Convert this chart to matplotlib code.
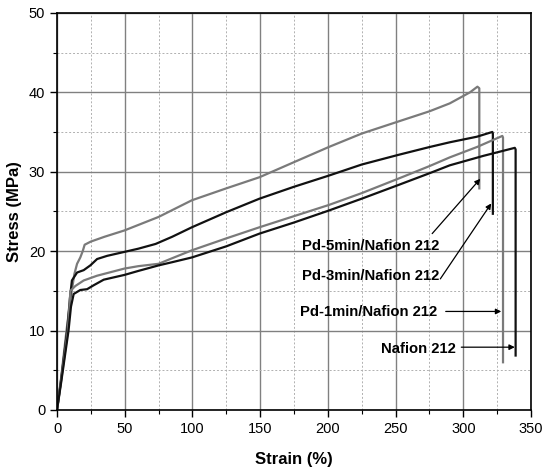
import numpy as np
import matplotlib.pyplot as plt
from matplotlib.ticker import MultipleLocator

plt.rcParams['font.family'] = ['Liberation Sans', 'DejaVu Sans']

# strain (%) / stress (MPa)
pd5_x = [0, 3, 7, 10, 12.8, 14.8, 17.2, 19, 20.4, 25, 35, 49.8, 75, 99.6, 125, 149.5, 175, 200.6, 225, 251.7, 275, 290, 305, 310.4, 311.8, 311.8]
pd5_y = [0, 4, 10, 14, 17.1, 18.4, 19.2, 20.0, 20.8, 21.2, 21.8, 22.6, 24.3, 26.4, 27.9, 29.3, 31.2, 33.1, 34.8, 36.3, 37.6, 38.6, 40.0, 40.7, 40.5, 27.9]

pd3_x = [0, 3, 7.5, 9.5, 11, 14.8, 19.7, 24.6, 29.6, 37, 49.8, 60, 72.8, 85, 99.6, 125, 149.5, 175, 200.6, 225, 251.7, 275, 290, 310, 321.4, 321.8, 321.8]
pd3_y = [0, 3.8, 10, 14, 16.3, 17.3, 17.6, 18.2, 19.0, 19.4, 19.9, 20.3, 20.9, 21.8, 23.0, 24.9, 26.6, 28.1, 29.5, 30.9, 32.1, 33.1, 33.7, 34.4, 35.0, 34.8, 24.7]

pd1_x = [0, 3, 8, 9.9, 13.5, 19.7, 29.6, 49.8, 60, 75, 85, 99.6, 125, 149.5, 175, 200.6, 225, 251.7, 275, 290, 310, 328.8, 329.3, 329.3]
pd1_y = [0, 3.6, 10, 15.0, 15.6, 16.3, 16.9, 17.8, 18.1, 18.4, 19.1, 20.1, 21.6, 23.0, 24.4, 25.8, 27.3, 29.1, 30.7, 31.8, 33.1, 34.5, 34.3, 6.0]

naf_x = [0, 3, 8.5, 10.3, 12.3, 17.2, 22.2, 27.1, 34.5, 49.8, 60, 75, 85, 99.6, 125, 149.5, 175, 200.6, 225, 251.7, 275, 290, 315, 338, 338.6, 338.6]
naf_y = [0, 3.4, 10, 13.0, 14.6, 15.1, 15.2, 15.7, 16.4, 17.0, 17.5, 18.2, 18.6, 19.2, 20.6, 22.2, 23.6, 25.1, 26.6, 28.3, 29.8, 30.8, 32.0, 33.0, 32.8, 6.85]

gray = '#7a7a7a'
black = '#111111'

fig = plt.figure(figsize=(5.43, 4.75), dpi=100)
ax = fig.add_axes([0.105, 0.137, 0.873, 0.836])

ax.xaxis.set_major_locator(MultipleLocator(50))
ax.xaxis.set_minor_locator(MultipleLocator(25))
ax.yaxis.set_major_locator(MultipleLocator(10))
ax.yaxis.set_minor_locator(MultipleLocator(5))
ax.grid(which='major', color='#808080', linewidth=1.0, linestyle='-')
ax.grid(which='minor', color='#b0b0b0', linewidth=0.7, linestyle=(0, (2, 2)))
ax.set_axisbelow(True)

ax.plot(pd5_x, pd5_y, color=gray, lw=1.6)
ax.plot(pd3_x, pd3_y, color=black, lw=1.6)
ax.plot(pd1_x, pd1_y, color=gray, lw=1.6)
ax.plot(naf_x, naf_y, color=black, lw=1.6)

ax.set_xlim(0, 350)
ax.set_ylim(0, 50)
ax.tick_params(which='both', direction='out', top=False, right=False, labelsize=10.5)
ax.tick_params(which='major', length=5, width=1)
ax.tick_params(which='minor', length=3, width=0.8)
for s in ax.spines.values():
    s.set_linewidth(1.2)

ax.set_xlabel('Strain (%)', fontsize=12, fontweight='bold', labelpad=12)
ax.set_ylabel('Stress (MPa)', fontsize=12, fontweight='bold', labelpad=5)

arrow = dict(arrowstyle='-|>', color='black', lw=0.9, mutation_scale=8, shrinkA=0, shrinkB=0)
tkw = dict(fontsize=10.7, fontweight='bold', va='center')
ax.text(180.6, 20.6, 'Pd-5min/Nafion 212', ha='left', **tkw)
ax.annotate('', xy=(312.5, 29.1), xytext=(277, 22.2), arrowprops=arrow)
ax.text(180.6, 16.9, 'Pd-3min/Nafion 212', ha='left', **tkw)
ax.annotate('', xy=(320.6, 26.0), xytext=(283, 16.5), arrowprops=arrow)
ax.text(179.5, 12.3, 'Pd-1min/Nafion 212', ha='left', **tkw)
ax.annotate('', xy=(328, 12.4), xytext=(287, 12.4), arrowprops=arrow)
ax.text(239, 7.7, 'Nafion 212', ha='left', **tkw)
ax.annotate('', xy=(338, 7.9), xytext=(298.5, 7.9), arrowprops=arrow)

fig.savefig('out.png', dpi=100)
